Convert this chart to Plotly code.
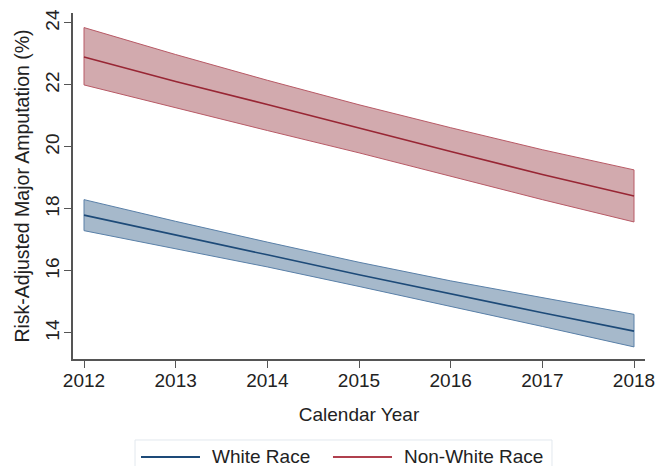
import plotly.graph_objects as go

years = [2012, 2013, 2014, 2015, 2016, 2017, 2018]

white_est = [17.80, 17.15, 16.52, 15.88, 15.26, 14.65, 14.06]
white_upper = [18.30, 17.60, 16.93, 16.28, 15.68, 15.13, 14.60]
white_lower = [17.30, 16.72, 16.13, 15.50, 14.86, 14.21, 13.55]

nonwhite_est = [22.90, 22.11, 21.37, 20.60, 19.85, 19.11, 18.42]
nonwhite_upper = [23.85, 22.98, 22.15, 21.36, 20.62, 19.91, 19.26]
nonwhite_lower = [22.00, 21.26, 20.53, 19.81, 19.05, 18.30, 17.58]

y_ticks = [14, 16, 18, 20, 22, 24]
series_names = ["White Race", "Non-White Race"]

WHITE_LINE = "#1d4a78"
WHITE_EDGE = "#5a80a8"
WHITE_FILL = "#a6b9cb"
NW_LINE = "#982634"
NW_EDGE = "#b85a66"
NW_FILL = "#d2aaae"

fig = go.Figure()

def band(lower, upper, edge, fill):
    fig.add_trace(go.Scatter(x=years, y=lower, mode="lines",
                             line=dict(color=edge, width=1),
                             showlegend=False, hoverinfo="skip"))
    fig.add_trace(go.Scatter(x=years, y=upper, mode="lines",
                             line=dict(color=edge, width=1),
                             fill="tonexty", fillcolor=fill,
                             showlegend=False, hoverinfo="skip"))
    fig.add_trace(go.Scatter(x=[years[0], years[0], None, years[-1], years[-1]],
                             y=[lower[0], upper[0], None, lower[-1], upper[-1]],
                             mode="lines", line=dict(color=edge, width=1),
                             showlegend=False, hoverinfo="skip"))

band(white_lower, white_upper, WHITE_EDGE, WHITE_FILL)
band(nonwhite_lower, nonwhite_upper, NW_EDGE, NW_FILL)

fig.add_trace(go.Scatter(x=years, y=white_est, mode="lines", name=series_names[0],
                         line=dict(color=WHITE_LINE, width=1.6), showlegend=False))
fig.add_trace(go.Scatter(x=years, y=nonwhite_est, mode="lines", name=series_names[1],
                         line=dict(color=NW_LINE, width=1.6), showlegend=False))

font_family = "Liberation Sans, Arial, sans-serif"
txt = "#222"

# Legend box (extends below the page edge, as in the original)
leg_y = -0.283
fig.add_shape(type="rect", xref="paper", yref="paper",
              x0=0.1084, x1=0.8374, y0=-0.36, y1=-0.2341,
              line=dict(color="#e2e8ee", width=1), fillcolor="white", layer="above")
legend_items = [
    (0.1189, 0.2220, 0.2395, WHITE_LINE, series_names[0]),
    (0.4545, 0.5577, 0.5752, "#b0404e", series_names[1]),
]
for x0, x1, xt, col, name in legend_items:
    fig.add_shape(type="line", xref="paper", yref="paper",
                  x0=x0, x1=x1, y0=leg_y, y1=leg_y,
                  line=dict(color=col, width=2), layer="above")
    fig.add_annotation(xref="paper", yref="paper", x=xt, y=leg_y,
                       xanchor="left", yanchor="middle", showarrow=False,
                       text=name, font=dict(size=19, color=txt))

fig.update_layout(
    width=657, height=466,
    margin=dict(l=73, r=12, t=13, b=107, autoexpand=False),
    paper_bgcolor="white", plot_bgcolor="white",
    font=dict(family=font_family, size=19, color=txt),
    showlegend=False,
    xaxis=dict(range=[2011.88, 2018.12], tickvals=years,
               ticktext=[str(y) for y in years],
               showgrid=False, zeroline=False, automargin=False,
               showline=True, linecolor="#555", linewidth=1.5,
               ticks="outside", ticklen=7, tickcolor="#555",
               ticklabelstandoff=-4,
               tickfont=dict(size=19, color=txt),
               title=dict(text="Calendar Year", font=dict(size=19, color=txt), standoff=18)),
    yaxis=dict(range=[13.16, 24.32], tickvals=y_ticks,
               ticktext=[str(v) for v in y_ticks],
               showgrid=False, zeroline=False, automargin=False,
               showline=True, linecolor="#555", linewidth=1.5,
               ticks="outside", ticklen=7, tickcolor="#555",
               tickangle=-90, ticklabelstandoff=-2,
               tickfont=dict(size=19, color=txt),
               title=dict(text="Risk-Adjusted Major Amputation (%)",
                          font=dict(size=19.5, color=txt), standoff=7)),
)

fig.write_html("out.html", config={"displayModeBar": False},
               post_script="document.body.style.margin='0';document.body.style.overflow='hidden';")
